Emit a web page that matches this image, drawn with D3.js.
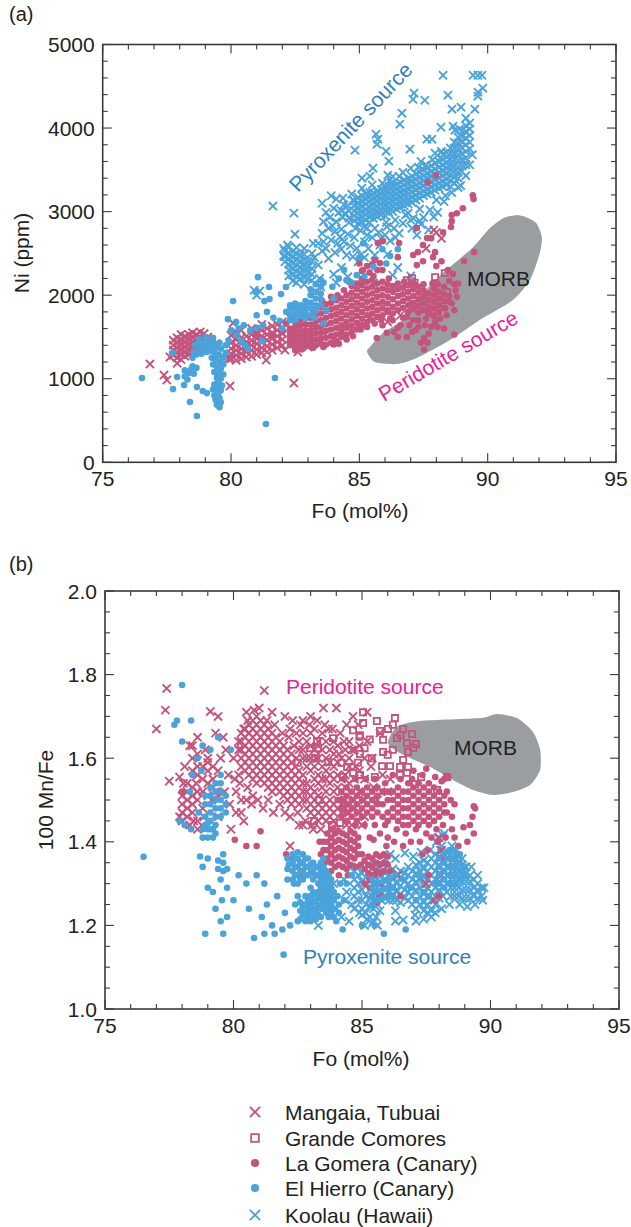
<!DOCTYPE html>
<html><head><meta charset="utf-8">
<style>html,body{margin:0;padding:0;background:#fff}svg{display:block}text{font-family:"Liberation Sans",Arial,sans-serif}</style>
<script src="https://cdn.jsdelivr.net/npm/d3@7/dist/d3.min.js"></script>
</head><body><svg id="c" width="631" height="1227"></svg>
<script>
const legendLabels=["Mangaia, Tubuai","Grande Comores","La Gomera (Canary)","El Hierro (Canary)","Koolau (Hawaii)"];
const xTicks=[75,80,85,90,95], niTicks=[0,1000,2000,3000,4000,5000], mnTicks=[1.0,1.2,1.4,1.6,1.8,2.0];
const morbA=[[85.3,1319],[85.6,1200],[86.46,1176],[87.24,1248],[88.53,1463],[89.81,1726],[90.98,1941],[91.65,2181],[92.03,2504],[92.11,2695],[91.9,2862],[91.5,2934],[91.1,2958],[90.6,2922],[90.09,2803],[89.43,2575],[88.53,2336],[87.75,2120],[86.85,1738],[85.92,1547],[85.41,1379]];
const morbB=[[86.01,1.636],[86.36,1.675],[87.26,1.689],[89.59,1.696],[90.25,1.706],[91.03,1.696],[91.65,1.663],[91.93,1.62],[91.93,1.572],[91.54,1.536],[90.88,1.519],[90.1,1.512],[89.32,1.524],[88.54,1.548],[87.65,1.579],[86.6,1.608]];

// isolated points: [Fo, value]
const koolauA=[[88.26,4632],[89.43,4632],[89.62,4632],[89.78,4632],[89.81,4477],[89.62,4429],[89.62,4381],[88.45,4393],[87.13,4417],[87.09,4345],[87.55,4333],[86.66,4178],[86.58,4046],[88.61,4226],[88.96,4250],[89.5,4226],[89.15,4118],[88.18,4010],[88.65,4022],[88.72,3974],[87.63,3867],[87.83,3867],[85.65,3927],[85.72,3867],[85.69,3807],[84.83,3735],[86.04,3723],[86.15,3604],[86.97,3747],[85.53,3520],[85.41,3424],[85.1,3400],[86.11,3436],[86.19,3376],[84.36,3161],[84.75,3137],[81.63,3066],[82.45,2982],[82.49,2730],[82.2,2600],
[83.55,3100],[83.9,3190],[84.1,3150],[84.4,3080],[84.6,3010],[83.7,2990],[84.0,3040],[84.2,2990],[83.6,2880],[83.85,2930],[84.1,2880],[84.35,2930],[84.6,2870],[84.85,2800],[83.55,2740],[83.8,2800],[84.05,2760],[84.3,2790],[84.55,2730],[84.8,2690],[85.05,2770],[85.3,2800],[83.6,2640],[83.9,2660],[84.15,2620],[84.4,2640],[84.65,2590],[84.9,2560],[85.2,2640],[85.5,2690],[85.75,2750],[86.0,2720],[86.07,2820],[86.35,2800],[86.7,2860],[87.24,2720],[87.9,2935],[87.0,2900],[86.2,2650],[85.8,2600],[85.05,2480],[84.5,2480],[84.3,2550],[84.05,2510],[83.8,2440],[83.55,2530],[83.25,2450],[83.4,2360],[83.45,2200],[84.0,2250],[84.3,2330],[84.55,2220],[85.55,2150],[86.3,2240],[86.5,2330],[87.0,2230],[80.9,2060],[81.0,2000],[81.12,2050],[84.1,2150],[83.5,2100],[86.4,2900],[87.4,2850],[87.7,2780],[88.3,3120],[88.0,3140],[86.9,2980],[87.35,3030],
[85.2,2820],[85.6,2800],[86.05,2870],[86.25,3340],[86.55,3420],[86.8,2960],[87.1,2920],[87.3,3530],[87.5,2930],[87.6,3560],[87.85,3620],[87.75,3020],[88.05,2990],[88.25,3680],[88.35,3190],[88.6,3230],[88.85,3290],[88.95,3310],[89.15,3430],[89.3,3560],[89.4,3680],[88.9,3990],[88.2,3720],[87.95,3700],[87.4,3600],[87.0,3520],[86.7,3470],[86.3,3420],[85.9,3340],[85.5,3320],[85.1,3280],[84.7,3210],[84.55,3070],[84.45,2980],[84.6,2920],[84.3,3010],[83.95,2830],[84.25,2700],[83.7,2560],[85.35,2560],[85.6,2480],[85.3,2720],[85.85,2680],[86.4,2690],[86.55,2740],[87.05,2800],[87.35,2890],[84.75,2460],[84.95,2400],[85.2,2450],[86.1,2490],[85.1,2200],[83.4,2620],[83.2,2620]];
// dense clusters: [Fo, value, value, ...]
const koolauARows=[[84.8,2890,2950,3010,3070,3130],[84.95,2860,2920,2985,3045,3105,3170],[85.1,2880,2940,3000,3060,3125,3190],[85.25,2900,2965,3025,3090,3150,3210],[85.4,2870,2930,2990,3050,3115,3175,3230],[85.55,2920,2980,3040,3100,3160,3225],[85.7,2940,3000,3060,3125,3185,3245],[85.85,2960,3020,3085,3145,3205,3265],[86,2950,3010,3070,3130,3190,3250,3290],[86.15,2990,3050,3110,3170,3235,3300],[86.3,3000,3060,3125,3185,3245,3310],[86.45,3030,3090,3150,3210,3270,3330],[86.6,3050,3110,3170,3230,3290,3350],[86.75,3070,3130,3195,3255,3320,3380],[86.9,3090,3150,3210,3275,3340,3400],[87.05,3110,3170,3235,3300,3360,3420],[87.2,3140,3200,3260,3320,3385,3450],[87.35,3160,3220,3285,3345,3410,3470],[87.5,3190,3250,3310,3370,3430,3500],[87.65,3210,3270,3335,3400,3460,3520],[87.8,3230,3295,3355,3420,3480,3550],[87.95,3255,3320,3380,3440,3510,3580],[88.1,3280,3340,3405,3470,3530,3600],[88.25,3300,3365,3430,3495,3560,3625],[88.4,3320,3385,3450,3515,3580,3650,3710],[88.55,3300,3370,3435,3500,3565,3630,3700,3760],[88.7,3340,3410,3480,3550,3620,3690,3760,3830],[88.85,3400,3470,3540,3610,3680,3750,3820,3890],[89,3480,3550,3620,3690,3760,3830,3900,3970],[89.15,3560,3640,3720,3800,3880,3960,4030],[89.3,3750,3830,3910,3990,4060],
[82.05,2560,2470],[82.1,2400,2460,2530],[82.25,2230,2300,2370,2440,2510,2580],[82.4,2170,2240,2310,2380,2450,2520],[82.55,2150,2220,2290,2360,2430,2500,2570],[82.7,2200,2270,2340,2410,2480],[82.85,2130,2210,2280,2350,2420,2490,2560],[83,2200,2270,2340,2410],[83.15,2180,2250,2320,2400,2500]];

const mangaiaA=[[76.84,1176],[77.39,1044],[77.5,985],[79.96,912],[82.45,948],[77.62,1260],[77.9,1185],[81.37,1223],[82.1,1343],[80.08,1666],[79.4,1420],[79.9,1240],[83.6,1550],[84.0,1480],[84.3,1560],[85.0,1650],[85.4,1730],[85.9,1850],[86.1,1680],[87.6,2560],[88.0,2750],[88.2,2680],[87.9,2780],[83.3,2040],[87.45,2000],[87.1,1880],[86.6,1760],[82.6,1320],[83.0,1380]];
const mangaiaARows=[[77.75,1280,1340,1400,1460],[77.9,1250,1310,1370,1430,1490],[78.05,1230,1290,1350,1410,1470,1530],[78.2,1270,1330,1390,1450,1510],[78.35,1290,1350,1410,1470,1530],[78.5,1310,1370,1430,1490,1550],[78.65,1350,1410,1470,1530],[78.8,1380,1440,1500,1560],[78.95,1420,1480,1540],[79.1,1440,1500],[80,1240,1300,1360,1430,1520],[80.2,1220,1280,1340,1400,1470,1560],[80.4,1240,1300,1360,1420,1490,1580],[80.6,1260,1320,1380,1440,1510],[80.8,1270,1340,1400,1460,1530,1600],[81,1290,1350,1420,1480,1550],[81.2,1310,1370,1440,1510,1580,1650],[81.4,1320,1390,1460,1530,1600],[81.6,1340,1410,1480,1550,1630],[81.8,1370,1440,1510,1580,1650],[82,1400,1470,1540,1610,1680]];
const comoresA=[[87.05,2204],[87.95,2216],[88.33,2264],[88.41,2037],[86.85,2180],[87.15,2150]];
const gomeraA=[[87.98,3436],[87.67,3352],[89.42,3196],[89.45,3150],[89.03,3041],[88.8,2980],[88.6,2960],[88.6,2886],[88.57,2815],[88.26,2754],[87.24,2803],[87.64,2683],[87.8,2680],[86.55,2623],[85.72,2623],[85.92,2647],[87.48,2600],[87.28,2515],[87.1,2480],[87.95,2515],[87.87,2455],[86.5,2455],[88.2,2407],[87.48,2407],[88.0,2348],[87.24,2360],[89.47,2515],[89.08,2407],[88.65,2252],[85.14,2300],[85.8,2384],[85.68,1487],[86.07,1550],[86.5,1500],[86.5,1610],[87.2,1580],[87.52,1487],[87.4,1430],[87.52,1350],[87.8,1620],[88.05,1620],[88.7,1530],[86.85,1738],[87.1,1700],[87.9,1760],[87.7,1790],[88.7,1820],[88.35,1840],[88.7,2130],[88.85,2140],[88.45,2300],[86.1,1800],[86.3,1700],[86.6,1640],[87.55,1640],[87.3,1620],[88.6,1900],[81.0,1530],[81.6,1530],[82.0,1560],[85.1,2290],[85.3,2350],[85.5,2370],[85.4,2270],[85.7,2300],[85.0,2380],[85.6,2420],[85.9,2300],
[85.9,1640],[86.2,1720],[86.7,1730],[86.95,1640],[87.05,1560],[87.3,1700],[87.6,1720],[87.95,1680],[88.15,1720],[88.4,1760],[86.35,1560],[86.85,1500],[87.7,1540],[87.65,1430],[88.3,1600],[88.75,2060],[88.8,1980],[88.05,2130],[87.85,2140],[87.15,2130],[86.75,2160],[86.15,2200],[85.55,2230],[84.6,2160],[84.4,2060],[84.15,2000],[83.9,1980],[83.55,1930],[83.2,1820],[82.85,1780],[82.45,1730],[82.15,1660],[84.2,1420],[84,1410],[83.6,1380],[83.2,1370],[82.75,1350],[82.5,1340],[84.5,1470],[84.75,1510],[85.05,1590],[85.3,1620],[85.6,1660],[85.85,1700]];
const gomeraARows=[[82.3,1400,1450,1500,1550,1600],[82.5,1380,1440,1500,1560,1620,1680],[82.7,1390,1450,1510,1570,1640,1700],[82.9,1400,1460,1520,1580,1650,1720],[83.1,1390,1450,1510,1580,1650,1730],[83.3,1400,1470,1540,1610,1680,1760],[83.5,1420,1480,1550,1620,1700,1780,1860],[83.7,1410,1490,1570,1650,1730,1810,1890],[83.9,1430,1510,1590,1670,1750,1830,1910],[84.1,1450,1530,1610,1690,1770,1850,1940],[84.3,1500,1570,1640,1720,1800,1880,1960],[84.5,1530,1610,1680,1760,1840,1920,2000],[84.7,1560,1630,1710,1790,1870,1950,2030,2110],[84.9,1590,1670,1750,1830,1910,1990,2070,2140],[85.1,1640,1720,1800,1880,1960,2040,2120,2190],[85.3,1680,1760,1840,1920,2000,2080,2160],[85.5,1700,1780,1860,1940,2020,2100,2180],[85.7,1740,1820,1900,1980,2060,2140],[85.9,1760,1840,1920,2000,2080,2160],[86.1,1820,1900,1980,2060,2130],[86.3,1780,1860,1950,2040,2110],[86.5,1820,1900,1990,2070,2140],[86.7,1850,1930,2010,2090],[86.9,1800,1880,1960,2040,2120],[87.1,1830,1910,1990,2070],[87.3,1790,1870,1950,2030,2100],[87.5,1820,1900,1980,2060,2130],[87.7,1780,1860,1940,2020],[87.9,1750,1840,1920,2000,2080],[88.1,1800,1880,1960,2040],[88.3,1850,1930,2010,2100],[88.5,1920,1990,2170]];
const hierroA=[[76.53,1008],[77.74,1307],[77.74,876],[77.9,1020],[78.17,924],[78.4,721],[78.67,554],[78.67,900],[78.9,853],[79.06,828],[81.36,458],[81.71,1008],[80.08,1929],[79.88,1713],[81.05,2216],[80.97,2037],[81.48,2097],[81.95,2013],[81.3,1929],[81.5,1953],[82.14,2097],[78.2,1100],[78.5,1150],[79.9,1460],[80.0,1580],[80.2,1520],[80.4,1450],[80.55,1400],[80.3,1600],[80.5,1640],[80.2,1680],[80.75,1580],[81.0,1610],[81.25,1640],[81.0,1760],[81.4,1800],[81.65,1730],[81.9,1690],[82.15,1800],[81.2,1450],[82.0,1600],[80.65,1360],[83.7,1820],[83.25,1730],[83.6,1660],[84.0,1960],[83.95,2100],[83.6,2150],[84.5,2180],[84.9,2240],[84.4,2300],[85.0,2450],[85.55,2340],[86.05,2380],[85.2,2230],[85.9,2550],[86.5,2550],[85.15,2620],[86.2,2470],[84.2,2200],[84.7,2150],
[79.55,660],[79.45,690],[79.6,720],[79.4,750],[79.55,770],[79.35,800],[79.5,830],[79.3,870],[79.45,885],[79.6,860],[79.35,930],[79.5,950],[79.65,920],[79.45,1010],[79.6,1000],[79.7,1050],[79.5,1060],[79.35,1080],[79.6,1120],[79.45,1140],[79.3,1170],[79.7,1170],[79.55,1200],[79.4,1230],[79.25,1250],[79.7,1250],[79.55,1280],[79.8,1310],[79.4,1300],[79.25,1330],[79.05,1320],[78.85,1300],[78.65,1290],[78.5,1250],[78.55,1320],[78.8,1350],[79,1380],[79.2,1390],[79.4,1370],[79.6,1360],[79.8,1400],[79.55,1430],[79.3,1440],[79.05,1440],[78.8,1420],[78.6,1400],[78.75,1470],[79,1500],[79.3,1490],[78.2,1030],[78.35,1070],[78.3,990],[78.45,1110],[78.55,1060],[78.65,1130]];
const hierroARows=[[82.3,1700,1760,1830,1880],[82.5,1700,1770,1840,1900],[82.7,1750,1820,1880],[82.9,1720,1790,1860,1930],[83.1,1760,1840,1910,2000,2070],[83.3,1810,1880,1960,2040,2130],[83.5,1880,1950,2020,2100,2180]];

const koolauB=[[83.3,1.20],[84.5,1.21],[85.1,1.20],[84.9,1.23],[85.9,1.36],[86.1,1.37],[86.3,1.21],[87.1,1.21],[88.2,1.42],[87.95,1.41],[88.05,1.38],[84.3,1.31],[84.0,1.24],[84.2,1.22],[84.6,1.25],[83.9,1.30],[85.6,1.20],[85.45,1.21],[84.4,1.28],
[85,1.225],[85.2,1.215],[85.4,1.205],[85.55,1.22],[85.7,1.235],[86.6,1.213],[86.3,1.235],[87.06,1.225],[87.7,1.22],[87.4,1.215],[86.67,1.373],[86.3,1.36],[87.0,1.365],[87.3,1.375],[87.65,1.38],[87.9,1.40],[88.1,1.39],[88.15,1.415],[88.5,1.39],[84.5,1.34],[84.35,1.26],[84.7,1.24],[85.25,1.34],[85.5,1.345],[85.8,1.345],[88.9,1.36],[89.25,1.34],[89.5,1.32],[89.75,1.29],[89.7,1.26],[89.4,1.25],[89.1,1.245],[88.8,1.25],[88.4,1.25],[88.1,1.24],[87.85,1.23]];
const koolauBRows=[[84.7,1.27,1.29,1.31,1.33],[84.85,1.26,1.28,1.30,1.32,1.34],[85,1.24,1.26,1.285,1.305,1.325],[85.15,1.23,1.25,1.27,1.295,1.315],[85.3,1.22,1.245,1.265,1.285,1.305],[85.45,1.24,1.26,1.28,1.30,1.32],[85.6,1.25,1.27,1.29,1.31,1.33],[85.75,1.26,1.28,1.30,1.32],[85.9,1.265,1.285,1.305,1.325],[86.05,1.26,1.28,1.30,1.32],[86.2,1.26,1.275,1.295,1.315,1.335],[86.35,1.26,1.28,1.30,1.32],[86.5,1.255,1.275,1.295,1.315,1.33],[86.65,1.265,1.285,1.305,1.325],[86.8,1.26,1.28,1.30,1.32,1.34],[86.95,1.25,1.27,1.29,1.31,1.33],[87.1,1.24,1.26,1.285,1.305,1.325,1.345],[87.25,1.25,1.27,1.29,1.31,1.33,1.35],[87.4,1.235,1.255,1.275,1.295,1.315,1.335,1.355],[87.55,1.23,1.25,1.27,1.29,1.31,1.33,1.35],[87.7,1.235,1.26,1.28,1.30,1.32,1.34,1.36],[87.85,1.25,1.27,1.29,1.31,1.33,1.35,1.37],[88,1.265,1.285,1.305,1.325,1.345,1.365],[88.15,1.27,1.29,1.31,1.33,1.35,1.37],[88.3,1.28,1.30,1.32,1.34,1.36,1.375],[88.45,1.27,1.29,1.31,1.33,1.35,1.37],[88.6,1.27,1.29,1.31,1.33,1.35,1.37],[88.75,1.27,1.29,1.31,1.33,1.35,1.365],[88.9,1.265,1.285,1.305,1.325,1.345],[89.05,1.265,1.285,1.305,1.325,1.34],[89.2,1.265,1.285,1.305,1.32],[89.35,1.27,1.29,1.31],[89.5,1.265,1.285,1.30],[89.65,1.27,1.29]];
const mangaiaB=[[77.4,1.767],[77.0,1.67],[77.35,1.715],[81.2,1.762],[77.5,1.545],[79.1,1.712],[79.4,1.70],[80.5,1.71],[80.8,1.715],[79.3,1.66],[79.6,1.65],[78.6,1.65],[78.9,1.62],[79.0,1.60],[78.3,1.63],[78.1,1.58],[77.9,1.555],[79.65,1.52],[79.9,1.43],[80.1,1.47],[79.8,1.56],[80.0,1.60],[80.2,1.64],[79.7,1.62],[80.4,1.67],[80.25,1.54],[80.5,1.50],[80.7,1.49],[80.4,1.45],[79.4,1.46],[79.3,1.52],[78.3,1.44],[78.6,1.43],[78.0,1.45],[77.9,1.46],[81.0,1.72],[81.5,1.71],[82.3,1.69],[82.6,1.68],[82.0,1.70],[83.0,1.70],[83.5,1.72],[84.0,1.72],[85.2,1.71],[82.2,1.39],[87.8,1.26],[88.1,1.32],[86.4,1.32],[87.5,1.30],[88.0,1.41],[88.1,1.38],[85.4,1.60],[85.7,1.66],[85.0,1.44],[84.4,1.44],[83.1,1.43],[82.7,1.44],[86.0,1.52],
[80.1,1.52],[80.3,1.50],[80.55,1.53],[80.75,1.51],[80.95,1.50],[81.15,1.48],[81.35,1.50],[81.55,1.47],[81.8,1.49],[82,1.47],[82.2,1.46],[80.2,1.62],[80.55,1.69],[80.2,1.56],[81.3,1.69],[81.6,1.68],[81.9,1.66],[82.15,1.65],[82.35,1.63],[82.45,1.66],[82.2,1.67],[82.7,1.69],[82.95,1.68],[83.25,1.69],[83.55,1.68],[83.85,1.67],[84.15,1.66],[84.4,1.68],[84.65,1.70],[84.85,1.68],[84.3,1.64],[84.1,1.61],[84.6,1.62],[84.75,1.58],[85.2,1.64],[85.35,1.58],[85.45,1.53],[85.6,1.50],[85.8,1.56],[86.1,1.55],[82.5,1.47],[82.8,1.45],[82.55,1.44],[83.05,1.44],[83.4,1.43],[84,1.43],[84.6,1.44],[82.45,1.60],[83.2,1.60],[83.7,1.67],[78.45,1.45],[78.05,1.54],[78.55,1.54],[78.85,1.46],[79.15,1.50],[79.5,1.60],[79.85,1.49],[80.05,1.55],[80.3,1.47]];
const mangaiaBRows=[[78,1.47,1.49,1.51],[78.2,1.46,1.48,1.50,1.52,1.54],[78.4,1.47,1.49,1.51,1.53,1.57,1.60,1.63],[78.6,1.45,1.50,1.52,1.56,1.58,1.61],[78.8,1.48,1.52,1.55,1.58],[79,1.51,1.54,1.57,1.59],[79.2,1.53,1.55,1.58],[79.4,1.51,1.57],[80.3,1.58,1.60,1.62,1.64,1.66],[80.45,1.57,1.59,1.61,1.63,1.65,1.67],[80.6,1.56,1.58,1.60,1.62,1.64,1.66,1.68],[80.75,1.55,1.57,1.59,1.61,1.63,1.65,1.67,1.69],[80.9,1.54,1.56,1.58,1.60,1.62,1.64,1.66,1.68,1.70],[81.05,1.55,1.57,1.59,1.61,1.63,1.65,1.67,1.69],[81.2,1.54,1.56,1.58,1.60,1.62,1.64,1.66,1.68],[81.35,1.53,1.55,1.57,1.59,1.61,1.63,1.65,1.67],[81.5,1.52,1.54,1.56,1.58,1.60,1.62,1.64,1.66],[81.65,1.53,1.55,1.57,1.59,1.61,1.63,1.65],[81.8,1.52,1.54,1.56,1.58,1.60,1.62,1.64],[81.95,1.51,1.53,1.55,1.57,1.59,1.61,1.63],[82.1,1.50,1.52,1.54,1.56,1.58,1.60,1.62],[82.25,1.49,1.51,1.53,1.55,1.57,1.59,1.61],[82.4,1.50,1.52,1.54,1.56,1.58],[82.55,1.49,1.51,1.53,1.55,1.57,1.62,1.64],[82.7,1.50,1.52,1.54,1.56,1.60,1.62,1.66],[82.85,1.48,1.50,1.52,1.54,1.58,1.60,1.64],[83,1.47,1.49,1.51,1.53,1.57,1.60,1.63,1.66],[83.15,1.46,1.48,1.50,1.52,1.55,1.58,1.62,1.67],[83.3,1.45,1.47,1.49,1.51,1.54,1.56,1.60,1.64],[83.45,1.46,1.48,1.50,1.53,1.55,1.58,1.62,1.66],[83.6,1.45,1.47,1.49,1.52,1.55,1.57,1.60,1.64],[83.75,1.46,1.48,1.50,1.54,1.56,1.59,1.62],[83.9,1.45,1.47,1.49,1.52,1.55,1.58,1.61,1.64],[84.05,1.48,1.50,1.53,1.56,1.59,1.63],[84.2,1.47,1.49,1.52,1.55,1.60],[84.35,1.48,1.50,1.53,1.56,1.62],[84.5,1.47,1.49,1.54,1.58,1.60,1.64],[84.7,1.48,1.50,1.55,1.62],[84.9,1.47,1.52,1.57,1.63],[85.1,1.46,1.50,1.55,1.6]];
const comoresB=[[85.04,1.71],[85.04,1.684],[85.58,1.689],[86.28,1.696],[84.65,1.667],[85.7,1.665],[86.01,1.67],[86.6,1.67],[86.95,1.658],[86.36,1.648],[86.75,1.636],[87.1,1.634],[85.82,1.644],[84.92,1.655],[85.1,1.624],[86.79,1.615],[85.82,1.615],[86,1.608],[84.92,1.61],[85.38,1.6],[86.6,1.596],[85.78,1.581],[86.09,1.581],[86.48,1.579],[86.79,1.579],[84.84,1.589],[84.42,1.579],[85.5,1.555],[86.48,1.56],[86.75,1.565],[87.3,1.555],[87.06,1.538],[88.31,1.555],[87.92,1.524],[84.92,1.56],[84.26,1.555],[84.65,1.565],[83.25,1.641],[83.87,1.648],[83.29,1.624],[82.98,1.624],[84.9,1.651],[82.5,1.589],[83.17,1.6],[83.68,1.591],[84.2,1.589],[83.33,1.5],[83.13,1.45],[83.83,1.44],[84.14,1.445],[86.2,1.68],[86.5,1.655],[85.3,1.645],[86.2,1.62],[87.0,1.625]];
const gomeraB=[[89.35,1.485],[89.4,1.48],[89.2,1.44],[89.35,1.42],[88.95,1.435],[89.1,1.40],[89.3,1.46],[88.2,1.55],[88.5,1.43],[88.5,1.46],[88.6,1.49],[86.9,1.40],[86.6,1.39],[86,1.41],[85.7,1.42],[85.3,1.41],[87.55,1.38],[87.95,1.40],[88.1,1.36],[86.2,1.56],[87,1.57],[87.5,1.575],[87.6,1.54],[88.35,1.555],[85.45,1.405],[81.05,1.425],[80.5,1.39],[82.05,1.37],[78,1.52],[80.05,1.405],[88,1.27],[87.6,1.32],[86.5,1.27],[85.5,1.32],[85.7,1.27],[85.3,1.29],[85.1,1.30],[85.6,1.255],[83.35,1.40],[82.65,1.35],[82.75,1.32],[80.9,1.39],[82.3,1.36],
[84.05,1.50],[84.3,1.55],[84.75,1.55],[85.15,1.55],[85.5,1.55],[85.9,1.54],[86.5,1.55],[86.95,1.55],[87.35,1.56],[87.85,1.555],[88.1,1.545],[88.3,1.52],[88.45,1.50],[88.3,1.47],[88.15,1.44],[87.9,1.43],[87.5,1.42],[87.1,1.43],[86.7,1.42],[86.35,1.43],[85.9,1.44],[85.5,1.44],[85.1,1.44],[84.75,1.44],[83.4,1.37],[83.55,1.35],[83.8,1.33],[84.1,1.32],[84.45,1.32],[84.75,1.34],[85,1.37],[84.95,1.345],[85.3,1.31],[85.75,1.30],[86.1,1.33],[85.95,1.39],[86.25,1.40],[87.25,1.40],[87.35,1.37],[87.7,1.41],[88.25,1.41],[88.6,1.41],[88.75,1.39]];
const gomeraBRows=[[83.5,1.38,1.40],[83.65,1.36,1.38,1.40,1.42],[83.8,1.35,1.37,1.39,1.41,1.43],[83.95,1.34,1.36,1.38,1.40,1.42],[84.1,1.345,1.365,1.385,1.405,1.425],[84.25,1.34,1.36,1.38,1.40,1.42],[84.4,1.335,1.355,1.375,1.395,1.415],[84.55,1.345,1.365,1.385,1.405,1.425],[84.7,1.36,1.38,1.40,1.42],[84.85,1.37,1.39,1.41],[85.1,1.335,1.355],[85.25,1.325,1.345,1.365],[85.4,1.32,1.34,1.36],[85.55,1.33,1.35,1.37],[85.7,1.325,1.345,1.365],[85.85,1.33,1.35,1.37],[86,1.345,1.365],[84.2,1.46,1.48,1.50,1.52],[84.4,1.45,1.47,1.49,1.51,1.53],[84.6,1.46,1.48,1.50,1.52],[84.8,1.45,1.47,1.49,1.51,1.53],[85,1.46,1.48,1.50,1.52],[85.2,1.47,1.49,1.51,1.53],[85.4,1.46,1.48,1.50,1.52],[85.6,1.47,1.49,1.51,1.53],[85.8,1.46,1.49,1.52],[86,1.45,1.47,1.50,1.52],[86.2,1.46,1.48,1.50,1.52],[86.4,1.45,1.47,1.49,1.51,1.53],[86.6,1.44,1.46,1.48,1.50,1.52],[86.8,1.44,1.46,1.48,1.50,1.52,1.54],[87,1.45,1.47,1.49,1.51,1.53],[87.2,1.44,1.46,1.48,1.50,1.52,1.54],[87.4,1.45,1.47,1.49,1.51,1.53],[87.6,1.44,1.46,1.48,1.50,1.52],[87.8,1.45,1.47,1.49,1.51,1.53],[88,1.46,1.48,1.50,1.52],[88.2,1.47,1.49,1.51]];
const hierroB=[[76.5,1.364],[78,1.775],[77.8,1.69],[78.35,1.69],[77.7,1.68],[78,1.64],[79.1,1.62],[79.4,1.65],[79.9,1.62],[78.8,1.63],[78.6,1.6],[78.4,1.56],[78.75,1.57],[78.3,1.52],[78.65,1.47],[77.9,1.45],[78.1,1.44],[78.35,1.43],[78.7,1.365],[79,1.36],[78.8,1.34],[79.5,1.31],[79.75,1.29],[79.55,1.26],[79.3,1.24],[79.75,1.22],[79.5,1.21],[79.6,1.18],[78.9,1.18],[79,1.29],[79.2,1.28],[80,1.26],[80.2,1.32],[80.5,1.30],[80.6,1.24],[80.9,1.32],[81.2,1.30],[81.1,1.22],[81.3,1.25],[81.5,1.20],[81.7,1.27],[81.9,1.19],[82,1.23],[81.95,1.13],[82.2,1.20],[82.5,1.21],[80.8,1.17],[81.2,1.18],[81.6,1.18],[84.25,1.19],[85,1.20],[85.85,1.18],[85.5,1.20],[86.7,1.19],[86.3,1.32],[86.6,1.31],[86.9,1.29],[87.2,1.32],[87.4,1.28],[87.8,1.30],[87.1,1.26],[87.6,1.27],
[82.15,1.345],[82.4,1.32],[82.4,1.34],[82.4,1.36],[82.6,1.31],[82.6,1.33],[82.6,1.35],[82.8,1.32],[82.8,1.34],[82.8,1.36],[83,1.325],[83,1.345],[83.2,1.32],[83.2,1.34],[83.4,1.25],[83.4,1.27],[83.4,1.29],[83.4,1.31],[83.4,1.33],[83.4,1.35],[83.6,1.23],[83.6,1.25],[83.6,1.27],[83.6,1.29],[83.6,1.31],[83.6,1.33],[83.8,1.23],[83.8,1.25],[83.8,1.27],[83.8,1.29],[83.8,1.31],[82.7,1.225],[82.7,1.245],[82.9,1.22],[82.9,1.24],[82.9,1.26],[83.1,1.22],[83.1,1.24],[83.1,1.26],[83.1,1.28],[83.3,1.225],[83.3,1.245],[83.3,1.265],[84.05,1.27],[84.3,1.26],[84.0,1.21],[82.4,1.25],[82.5,1.27],[82.35,1.30],[84.4,1.30],[84.6,1.32],[84.15,1.30]];
const hierroBRows=[[82.1,1.31,1.335,1.36],[82.3,1.31,1.33,1.35,1.37],[82.5,1.30,1.32,1.34,1.36,1.375],[82.7,1.31,1.33,1.35,1.37],[82.9,1.32,1.34,1.36],[83.1,1.31,1.33,1.35],[83.3,1.28,1.30,1.32,1.34],[83.5,1.24,1.26,1.28,1.30,1.32,1.34,1.36],[83.7,1.22,1.24,1.26,1.28,1.30,1.32],[83.9,1.22,1.24,1.26,1.28],[82.6,1.215,1.235,1.255],[82.8,1.21,1.23,1.25,1.27],[83,1.21,1.23,1.25,1.27,1.29],[83.2,1.215,1.235,1.255,1.275],[83.4,1.22,1.24],[84.1,1.23,1.25],[85.4,1.25,1.27,1.29,1.31],[85.6,1.26,1.28,1.30],[85.8,1.265,1.285,1.305],[86,1.27,1.29,1.31],[86.2,1.27,1.29],[88,1.30,1.32,1.34,1.36],[88.2,1.29,1.31,1.33,1.35,1.37],[88.4,1.30,1.32,1.34,1.36,1.38],[88.6,1.30,1.32,1.34,1.36,1.38],[88.8,1.31,1.33,1.35,1.37],[89,1.32,1.34],[78.9,1.44,1.46,1.49,1.51],[79.1,1.43,1.45,1.47,1.49,1.51,1.53],[79.3,1.42,1.44,1.46,1.48,1.50,1.52,1.54],[79.5,1.46,1.48,1.50,1.52,1.54,1.56],[79.7,1.47,1.49,1.51],[78.8,1.41,1.43],[79,1.41,1.43,1.445],[79.2,1.41,1.43],[79.4,1.335,1.355],[79.6,1.33,1.35,1.37],[79.75,1.335]];

const expand=rows=>rows.flatMap(([x,...ys])=>ys.map(y=>[x,y]));
const svg=d3.select("#c");
const pink="#c5547c",blue="#4aa3da",gray="#9a9ea0",ink="#222",axisC="#3a3a3a",pinkLabel="#ea2196",blueLabel="#2f80b8";

function label(g,x,y,t,o={}){const e=g.append("text").attr("x",x).attr("y",y).attr("font-size",o.size||21).attr("fill",o.fill||ink).attr("text-anchor",o.anchor||"start").text(t);if(o.rot!=null)e.attr("transform",`rotate(${o.rot} ${x} ${y})`);return e;}

function marks(g,data,sc,kind,color,k=1){
  const sel=g.append("g").selectAll("path").data(data).join("path")
    .attr("transform",d=>`translate(${sc.x(d[0])},${sc.y(d[1])})`);
  if(kind==="x")sel.attr("d",d3.symbol(d3.symbolX,45*k*k)()).attr("fill","none").attr("stroke",color).attr("stroke-width",1.9);
  if(kind==="s")sel.attr("d",d3.symbol(d3.symbolSquare,38*k*k)()).attr("fill","none").attr("stroke",color).attr("stroke-width",1.8);
  if(kind==="c")sel.attr("d",d3.symbol(d3.symbolCircle,34*k*k)()).attr("fill",color);
}
function panel(sc,yTicks,yMinor,fmt,morb,sets){
  const g=svg.append("g");
  g.append("path").datum(morb).attr("d",d3.line().x(d=>sc.x(d[0])).y(d=>sc.y(d[1])).curve(d3.curveCardinalClosed.tension(0.3))).attr("fill",gray);
  sets.forEach(s=>marks(g,s[0],sc,s[1],s[2]));
  const [x0,x1]=sc.x.range(),[y0,y1]=sc.y.range();
  const ax=svg.append("g").attr("stroke",axisC).attr("fill","none");
  ax.append("rect").attr("x",x0).attr("y",y1).attr("width",x1-x0).attr("height",y0-y1).attr("stroke-width",1.6);
  const line=(a,b,c,d)=>ax.append("line").attr("x1",a).attr("y1",b).attr("x2",c).attr("y2",d).attr("stroke-width",1.1);
  d3.range(75,96).forEach(v=>{const l=v%5===0?9:5;const x=sc.x(v);line(x,y0,x,y0-l);line(x,y1,x,y1+l);});
  yMinor.forEach(v=>{const y=sc.y(v);const l=yTicks.some(t=>Math.abs(t-v)<1e-6)?9:5;line(x0,y,x0+l,y);line(x1,y,x1-l,y);});
  xTicks.forEach(v=>label(svg,sc.x(v),y0+24,v,{anchor:"middle"}));
  yTicks.forEach(v=>label(svg,x0-8,sc.y(v)+7.5,fmt(v),{anchor:"end"}));
}
const scA={x:d3.scaleLinear().domain([75,95]).range([102.7,616]),y:d3.scaleLinear().domain([0,5000]).range([462.3,44.5])};
const scB={x:d3.scaleLinear().domain([75,95]).range([105,619]),y:d3.scaleLinear().domain([1,2]).range([1009,591])};

panel(scA,niTicks,d3.range(0,5001,200),d3.format("d"),morbA,[[koolauA.concat(expand(koolauARows)),"x",blue],[mangaiaA.concat(expand(mangaiaARows)),"x",pink],[comoresA,"s",pink],[gomeraA.concat(expand(gomeraARows)),"c",pink],[hierroA.concat(expand(hierroARows)),"c",blue]]);
panel(scB,mnTicks,d3.range(1,2.001,0.05),d3.format(".1f"),morbB,[[koolauB.concat(expand(koolauBRows)),"x",blue],[mangaiaB.concat(expand(mangaiaBRows)),"x",pink],[comoresB,"s",pink],[gomeraB.concat(expand(gomeraBRows)),"c",pink],[hierroB.concat(expand(hierroBRows)),"c",blue]]);

label(svg,9,21,"(a)",{size:20});label(svg,9,571,"(b)",{size:20});
label(svg,360,518,"Fo (mol%)",{anchor:"middle"});
label(svg,29,253,"Ni (ppm)",{anchor:"middle",rot:-90});
label(svg,361,1066,"Fo (mol%)",{anchor:"middle"});
label(svg,53,800,"100 Mn/Fe",{anchor:"middle",rot:-90});
label(svg,467,286,"MORB");label(svg,454,755,"MORB");
label(svg,298,193,"Pyroxenite source",{fill:blueLabel,rot:-46.5});
label(svg,384,402,"Peridotite source",{fill:pinkLabel,rot:-30.5});
label(svg,286,694,"Peridotite source",{fill:pinkLabel});
label(svg,303,964,"Pyroxenite source",{fill:blueLabel});

const legendKinds=[["x",pink],["s",pink],["c",pink],["c",blue],["x",blue]];
const legendY=d3.scaleOrdinal().domain(legendLabels).range([1112,1138,1163,1188,1215]);
const lg=svg.append("g");
legendLabels.forEach((t,i)=>{
  const y=legendY(t);
  marks(lg,[[255,y]],{x:v=>v,y:v=>v},legendKinds[i][0],legendKinds[i][1],1.25);
  label(svg,285,y+7.5,t);
});
</script></body></html>
